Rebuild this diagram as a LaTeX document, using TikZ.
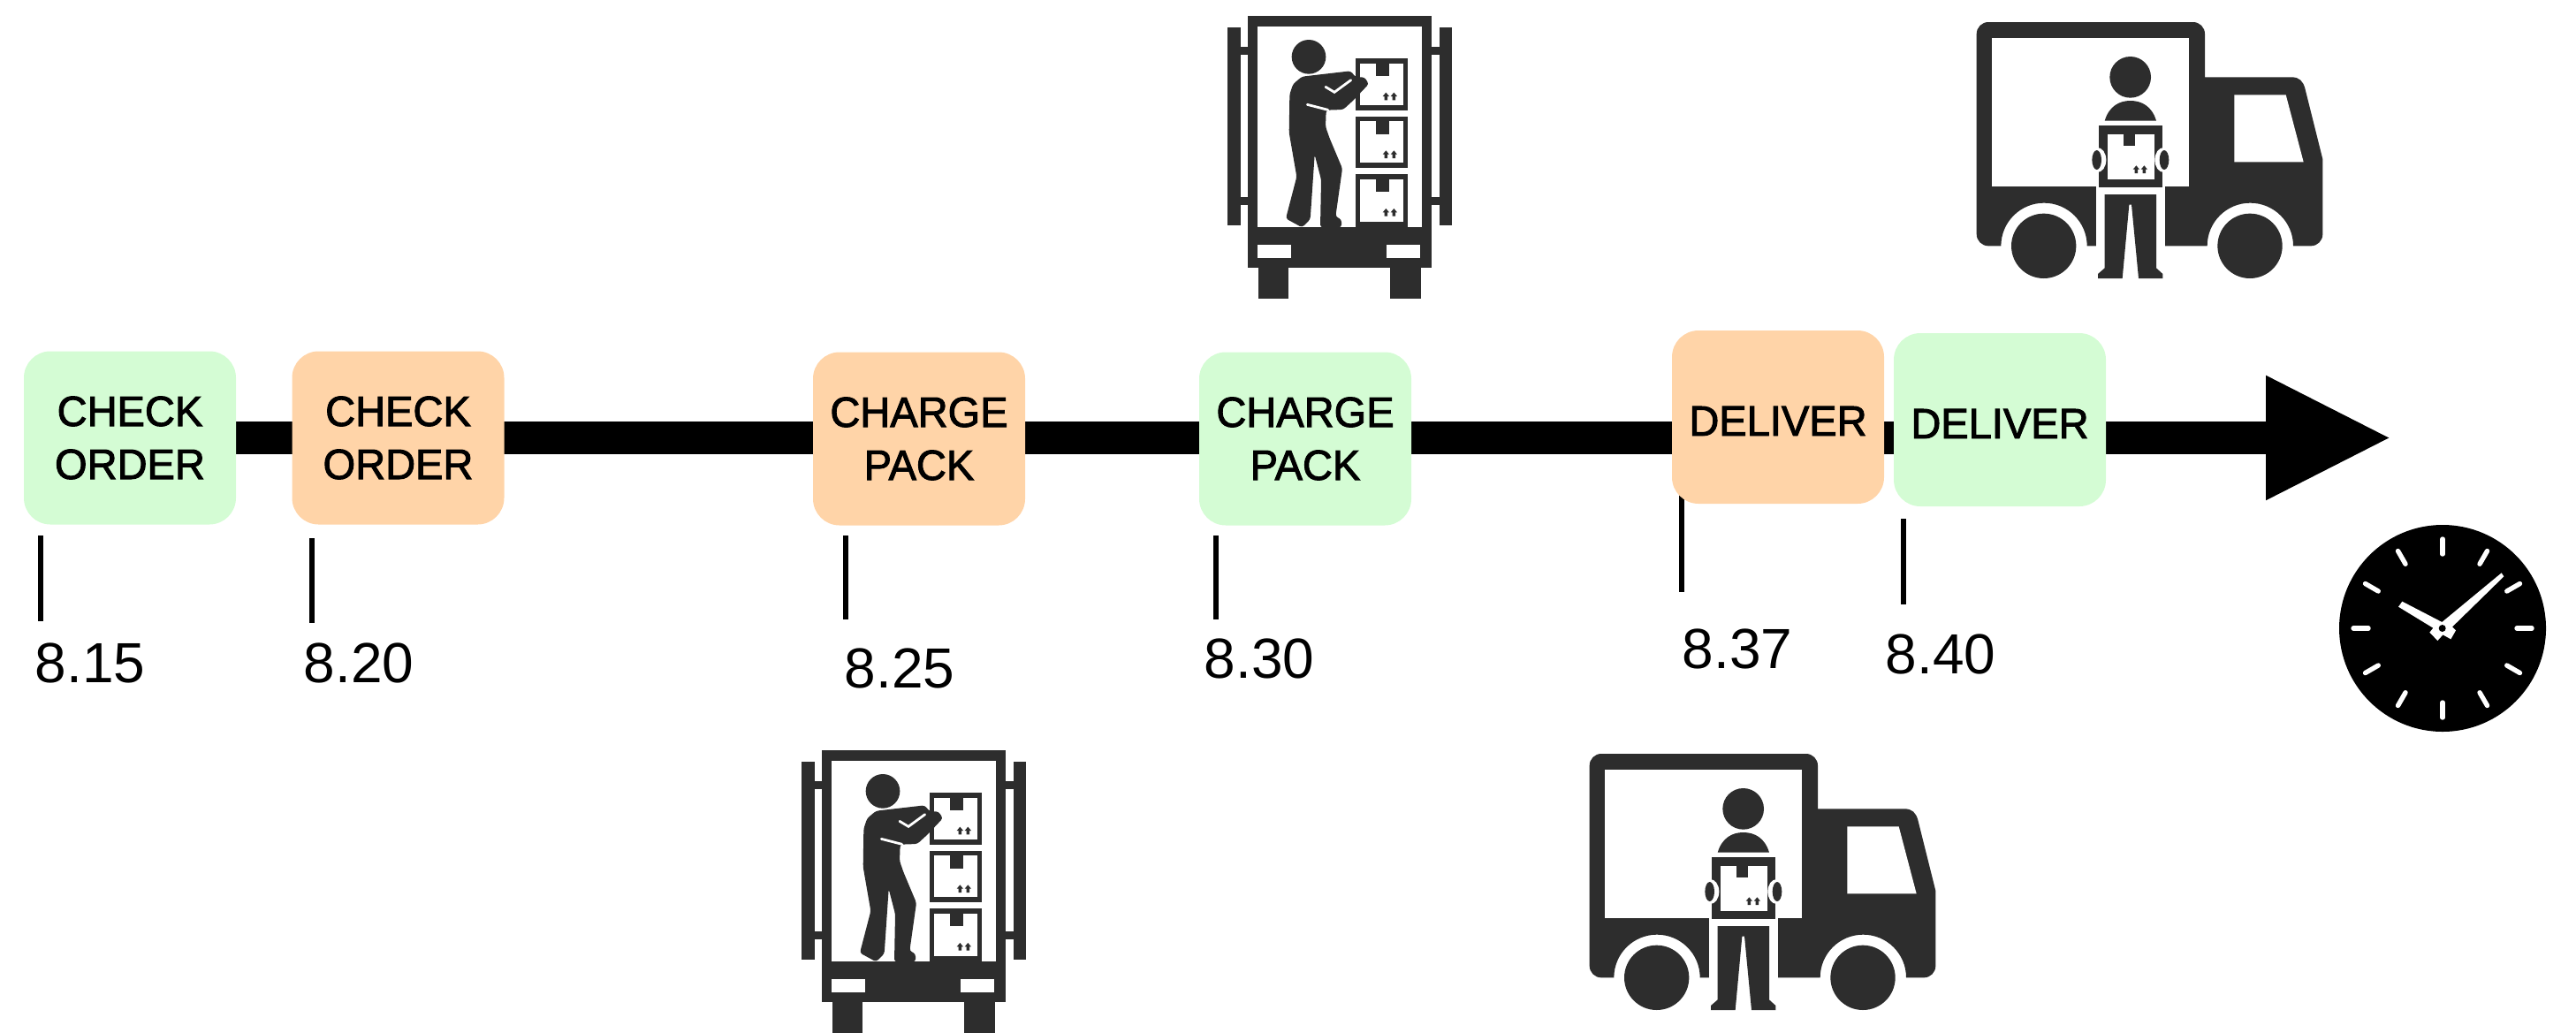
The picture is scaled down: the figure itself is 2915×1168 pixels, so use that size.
\documentclass[tikz,border=0pt]{standalone}
\usepackage{fontspec}
\setmainfont{Liberation Sans}
\newfontfamily\boxfont[FakeStretch=0.98,FakeBold=2]{Liberation Sans}
\usetikzlibrary{arrows.meta,backgrounds}
\definecolor{icondark}{HTML}{2D2D2D}
\definecolor{stepgreen}{HTML}{D4FCD4}
\definecolor{steporange}{HTML}{FFD4A8}
\newcommand{\tinyarrows}[2]{%
  \foreach \dx in {0,27}{%
    \fill[icondark,shift={(#1+\dx,#2)}] (-11,0) -- (0,-13) -- (11,0) -- (5,0) -- (5,13) -- (-5,13) -- (-5,0) -- cycle;}}
\newcommand{\parcel}[4]{% left, top, right, bottom of outer frame
  \fill[icondark] (#1,#2) rectangle (#3,#4);
  \fill[white] (#1+15,#2+17) rectangle (#3-13,#4-18);
  \fill[icondark] (#1+67,#2+17) rectangle (#1+112,#2+60);
  \tinyarrows{#1+102}{#2+129}}
\tikzset{
  stepbox/.style={rectangle,rounded corners=15pt,minimum width=120pt,minimum height=98pt,inner sep=0pt,align=center,
    font=\boxfont\fontsize{24}{30}\selectfont,text=black},
  greenbox/.style={stepbox,fill=stepgreen},
  orangebox/.style={stepbox,fill=steporange},
  timeline/.style={line width=18.5pt,-{Triangle[length=71.5pt,width=65pt]},black},
  timetick/.style={line width=2.7pt,black},
  timelabel/.style={font=\fontsize{32}{36}\selectfont,inner sep=0pt,text=black},
  reartruck/.pic={
    % side doors
    \fill[icondark] (148,92) rectangle (193,765);
    \fill[icondark] (868,92) rectangle (908,765);
    \fill[icondark] (190,158) rectangle (220,185);
    \fill[icondark] (190,670) rectangle (220,697);
    \fill[icondark] (835,158) rectangle (870,185);
    \fill[icondark] (835,670) rectangle (870,697);
    % body
    \fill[icondark] (215,55) rectangle (840,910);
    \fill[white] (250,90) rectangle (808,770);
    \fill[white] (248,832) rectangle (362,875);
    \fill[white] (688,832) rectangle (802,875);
    \fill[icondark] (253,905) rectangle (355,1015);
    \fill[icondark] (700,905) rectangle (805,1015);
    % parcels
    \parcel{583}{198}{758}{375}
    \parcel{583}{395}{758}{570}
    \parcel{583}{592}{758}{772}
    % person
    \fill[icondark] (423,193) circle[radius=58];
    \fill[icondark,rounded corners=1.5pt] (358,320) -- (370,285) -- (400,260) -- (565,241) -- (582,262) -- (612,262) -- (627,285)
      -- (605,308) -- (577,338) -- (540,372) -- (482,374) -- (480,430) -- (494,470) -- (537,572) -- (514,735)
      -- (534,745) -- (534,772) -- (462,772) -- (465,610) -- (443,525) -- (428,745) -- (400,772) -- (345,742)
      -- (382,600) -- (356,450) -- cycle;
    \draw[white,line width=1.4pt,line cap=round] (480,295) -- (510,313) -- (566,272);
    \draw[white,line width=1.4pt,line cap=round] (418,355) -- (488,373);
  },
  sidetruck/.pic={
    \fill[icondark] (80,85) arc[start angle=180,end angle=270,radius=40] -- (815,45)
      arc[start angle=-90,end angle=0,radius=40] -- (855,232) -- (1150,232)
      .. controls (1175,232) and (1188,245) .. (1195,270) -- (1255,510) -- (1255,765)
      arc[start angle=0,end angle=90,radius=40] -- (1155,805)
      arc[start angle=0,end angle=-180,radius=146] -- (455,805)
      arc[start angle=0,end angle=-180,radius=146] -- (120,805)
      arc[start angle=90,end angle=180,radius=40] -- cycle;
    \fill[white] (133,98) rectangle (800,602);
    \fill[white] (955,292) -- (1130,292) -- (1190,520) -- (955,520) -- cycle;
    \fill[icondark] (308,805) circle[radius=110];
    \fill[icondark] (1008,805) circle[radius=110];
    % person
    \fill[white] (485,602) rectangle (720,812);
    \fill[icondark] (602,232) circle[radius=70];
    \fill[icondark] (515,380) .. controls (530,330) and (565,312) .. (602,312) .. controls (640,312) and (675,330) .. (690,380) -- cycle;
    \fill[icondark] (495,395) rectangle (710,605);
    \fill[white] (490,513) ellipse[x radius=30,y radius=42];
    \fill[white] (715,513) ellipse[x radius=30,y radius=42];
    \fill[icondark] (488,513) ellipse[x radius=16,y radius=33];
    \fill[icondark] (717,513) ellipse[x radius=16,y radius=33];
    \fill[white] (525,425) rectangle (685,578);
    \fill[icondark] (578,425) rectangle (618,465);
    \tinyarrows{622}{545}
    \fill[icondark] (515,630) -- (690,630) -- (690,880) -- (712,900) -- (712,915) -- (630,915) -- (606,665) -- (598,665)
      -- (575,915) -- (492,915) -- (492,900) -- (515,880) -- cycle;
  }
}
\begin{document}
\begin{tikzpicture}[x=0.5pt,y=-0.5pt]
\useasboundingbox (0,0) rectangle (2915,1168);
% step boxes
\node[greenbox]  (g1) at (147,495.5) {CHECK\\ORDER};
\node[orangebox] (o1) at (450.5,495.5) {CHECK\\ORDER};
\node[orangebox] (o2) at (1040,496.5) {CHARGE\\PACK};
\node[greenbox]  (g2) at (1477,496.5) {CHARGE\\PACK};
\node[orangebox] (o3) at (2012,472) {\rule{0pt}{21pt}DELIVER};
\node[greenbox]  (g3) at (2263,475) {\rule{0pt}{21pt}DELIVER};
% time labels
\node[timelabel] (l1) at (102,750) {8.15};
\node[timelabel] (l2) at (406,750) {8.20};
\node[timelabel] (l3) at (1018,756) {8.25};
\node[timelabel] (l4) at (1425,745) {8.30};
\node[timelabel] (l5) at (1966,734) {8.37};
\node[timelabel] (l6) at (2196,740) {8.40};
% tick ends
\coordinate (a1) at (46,606);    \coordinate (b1) at (46,703);
\coordinate (a2) at (353,609);   \coordinate (b2) at (353,705);
\coordinate (a3) at (957,606);   \coordinate (b3) at (957,701);
\coordinate (a4) at (1376,606);  \coordinate (b4) at (1376,701);
\coordinate (a5) at (1903,560);  \coordinate (b5) at (1903,670);
\coordinate (a6) at (2154,587);  \coordinate (b6) at (2154,684);
\coordinate (tip) at (2707,495.5);
\begin{scope}[on background layer]
  \draw[timeline] (g1.east) -- (tip);
  \foreach \i in {1,...,6}{\draw[timetick] (a\i) -- (b\i);}
\end{scope}
% icons
\pic[scale=1/3] at (1340,0) {reartruck};
\pic[scale=1/3] at (858,831) {reartruck};
\pic[scale=1/3] at (2210,10) {sidetruck};
\pic[scale=1/3] at (1772,838) {sidetruck};
% clock
\fill[black] (2764,711) circle[radius=117];
\foreach \a in {0,30,...,330}{
  \draw[white,line width=2.7pt,line cap=round] (2764,711)++(\a:84) -- ++(\a:17);}
\begin{scope}[shift={(2620,620)},scale=1/3]
  \fill[white] (295,182) -- (430,252) -- (632,85) -- (640,97) -- (465,268) -- (477,280) -- (460,310) -- (433,295)
    -- (415,315) -- (388,287) -- (400,272) -- (282,200) -- cycle;
  \fill[black] (431,273) circle[radius=12];
\end{scope}
\end{tikzpicture}
\end{document}
